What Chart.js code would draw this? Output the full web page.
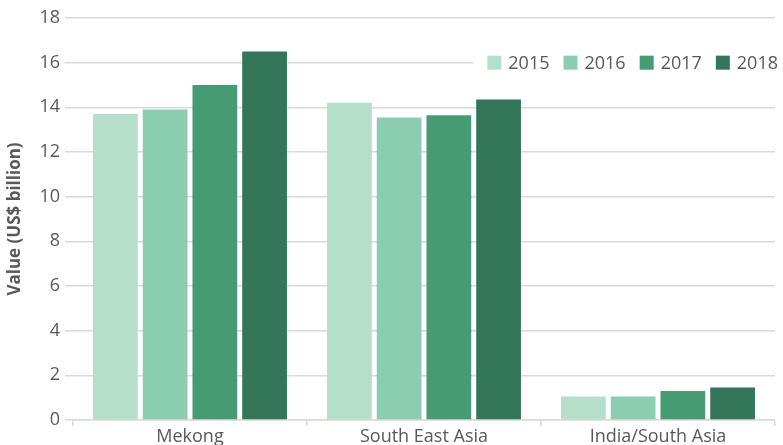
<!DOCTYPE html>
<html>
<head>
<meta charset="utf-8">
<script src="https://cdn.jsdelivr.net/npm/chart.js@4/dist/chart.umd.min.js"></script>
<style>
  html, body { margin: 0; padding: 0; background: #fff; }
  #wrap { width: 783px; height: 445px; }
</style>
</head>
<body>
<div id="wrap"><canvas id="grafico" width="783" height="445"></canvas></div>
<script>
// regioes
const regioes = ["Mekong", "South East Asia", "India/South Asia"];
// anos (series)
const anos = ["2015", "2016", "2017", "2018"];
// valores por ano, na ordem das regioes
const valores2015 = [13.7, 14.2, 1.05];
const valores2016 = [13.9, 13.55, 1.05];
const valores2017 = [15.0, 13.65, 1.3];
const valores2018 = [16.5, 14.35, 1.45];
// ticks do eixo y
const ticksY = [0, 2, 4, 6, 8, 10, 12, 14, 16, 18];

const cores = ["#b5dfcb", "#8bcdb0", "#469a74", "#34765a"];
const fonte = "'Open Sans', sans-serif";
const corTexto = "#595959";

// legenda desenhada dentro da area do grafico, com fundo branco
const legendaInterna = {
  id: "legendaInterna",
  afterDatasetsDraw(chart) {
    const ctx = chart.ctx;
    ctx.save();
    ctx.font = "18px " + fonte;
    const caixa = 14;
    const espaco = 7;
    const entre = 14;
    let larguras = chart.data.datasets.map(d => caixa + espaco + ctx.measureText(d.label).width);
    let total = larguras.reduce((a, b) => a + b, 0) + entre * (larguras.length - 1);
    let x = chart.width - 5 - total;
    const y = chart.scales.y.getPixelForValue(16);
    ctx.fillStyle = "#fff";
    ctx.fillRect(x - 14, y - 14, total + 24, 28);
    ctx.textBaseline = "middle";
    chart.data.datasets.forEach((d, i) => {
      ctx.fillStyle = d.backgroundColor;
      ctx.fillRect(x, y - caixa / 2, caixa, caixa);
      ctx.fillStyle = corTexto;
      ctx.fillText(d.label, x + caixa + espaco, y + 1);
      x += larguras[i] + entre;
    });
    ctx.restore();
  }
};

const series = [valores2015, valores2016, valores2017, valores2018];

new Chart(document.getElementById("grafico").getContext("2d"), {
  type: "bar",
  data: {
    labels: regioes,
    datasets: series.map((v, i) => ({
      label: anos[i],
      data: v,
      backgroundColor: cores[i],
      barPercentage: 0.9,
      categoryPercentage: 0.85,
    })),
  },
  options: {
    responsive: false,
    animation: false,
    layout: { padding: { top: 18, right: 8, left: 5, bottom: -3 } },
    plugins: {
      legend: { display: false },
      tooltip: { enabled: false },
    },
    scales: {
      x: {
        grid: {
          offset: true,
          drawOnChartArea: false,
          drawTicks: true,
          tickLength: 6,
          color: "#d9d9d9",
          lineWidth: 1.5,
        },
        border: { color: "#d9d9d9", width: 1.5 },
        ticks: { color: corTexto, font: { family: fonte, size: 18, lineHeight: 1.0 }, padding: 2 },
      },
      y: {
        min: 0,
        max: 18,
        afterBuildTicks: (eixo) => { eixo.ticks = ticksY.map(v => ({ value: v })); },
        grid: { color: "#d9d9d9", lineWidth: 1.5, tickLength: 8 },
        border: { display: false },
        ticks: { color: corTexto, font: { family: fonte, size: 18 }, padding: 5 },
        title: {
          display: true,
          text: "Value (US$ billion)",
          color: corTexto,
          font: { family: fonte, size: 17, weight: "bold" },
          padding: { top: 0, bottom: 9 },
        },
      },
    },
  },
  plugins: [legendaInterna],
});
</script>
</body>
</html>
